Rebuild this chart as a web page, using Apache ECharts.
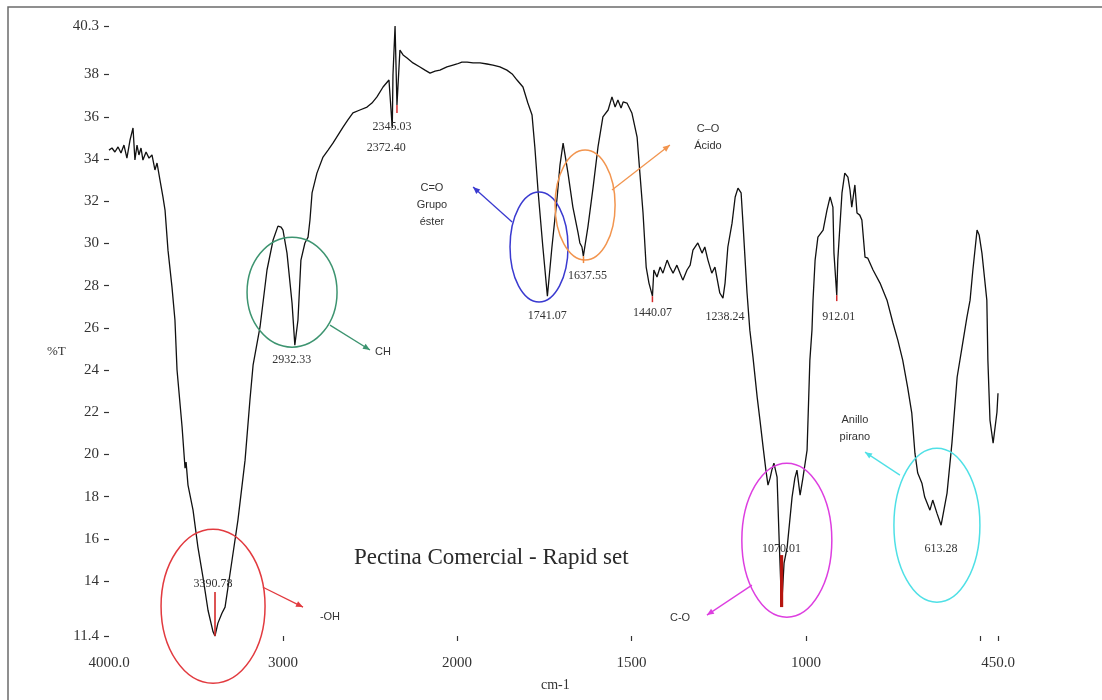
<!DOCTYPE html>
<html><head><meta charset="utf-8">
<script src="https://cdn.jsdelivr.net/npm/echarts@6/dist/echarts.min.js"></script>
<style>html,body{margin:0;padding:0;background:#fff}#c{width:1102px;height:700px}</style>
</head><body><div id="c"></div>
<script>
// ---- data ----
const wavenumber = [4000,3983,3966,3948,3931,3914,3897,3879,3862,3851,3839,3828,3816,3805,3787,3770,3753,3736,3724,3707,3690,3678,3661,3638,3621,3609,3580,3563,3557,3546,3517,3489,3460,3431,3402,3391,3374,3351,3333,3293,3259,3218,3190,3172,3132,3092,3057,3029,3011,3000,2977,2948,2932,2914,2897,2874,2856,2845,2833,2805,2770,2741,2713,2684,2655,2627,2598,2558,2517,2489,2460,2425,2391,2372,2368,2356,2345,2328,2310,2287,2253,2213,2184,2155,2126,2098,2058,2023,2000,
1986,1971,1954,1934,1914,1897,1877,1857,1842,1828,1811,1797,1785,1777,1768,1754,1741,1728,1713,1705,1696,1688,1682,1668,1653,1648,1642,1638,1625,1610,1596,1582,1567,1556,1547,1539,1530,1524,1513,1499,1484,1476,1467,1458,1450,1440,1436,1427,1418,1410,1398,1390,1381,1370,1361,1353,1341,1332,1324,1310,1298,1290,1281,1270,1261,1247,1238,1232,1224,1212,1203,1195,1186,1180,1169,1161,1152,1140,1132,1123,1115,1109,1103,1098,1092,1083,1077,1070,1063,1054,1040,1032,1026,1017,1009,997,989,983,980,974,966,951,940,931,923,920,912,909,897,889,880,874,869,860,854,846,840,831,823,808,788,768,751,737,723,709,697,688,680,668,660,645,637,625,613,596,582,567,553,539,530,522,510,504,496,482,479,473,464,453,450];
const transmittance = [34.42,34.52,34.33,34.57,34.28,34.66,34.04,34.90,35.47,33.95,34.66,34.19,34.52,33.95,34.33,34.04,34.19,33.48,33.81,33.00,32.20,31.58,29.68,27.93,26.37,24.00,21.30,19.35,19.64,18.55,17.36,15.61,14.19,12.62,11.60,11.40,12.01,12.48,12.77,14.99,16.89,19.73,22.58,24.23,26.04,28.74,30.16,30.82,30.77,30.63,29.54,27.17,25.18,26.37,29.21,30.02,30.30,31.11,32.39,33.33,34.09,34.42,34.75,35.13,35.51,35.85,36.18,36.32,36.46,36.65,36.94,37.41,37.74,35.47,37.98,40.30,36.56,39.16,38.93,38.78,38.55,38.36,38.21,38.07,38.16,38.21,38.36,38.45,38.50,
38.59,38.59,38.55,38.55,38.50,38.45,38.36,38.21,38.03,37.74,37.41,36.65,36.08,34.57,32.53,29.83,27.50,29.83,32.20,33.71,34.75,33.95,33.33,31.72,30.49,30.02,29.83,29.40,30.77,32.67,34.57,35.99,36.32,36.94,36.46,36.79,36.41,36.70,36.65,36.18,35.04,33.33,31.44,28.88,28.12,27.50,28.74,28.41,28.88,28.59,29.21,28.88,28.59,28.97,28.59,28.26,28.74,28.97,29.68,30.02,29.54,29.83,29.21,28.59,28.88,27.65,27.41,28.12,29.83,30.96,32.20,32.62,32.39,30.77,27.65,25.89,24.61,22.72,21.63,20.35,19.26,18.55,18.88,19.26,19.59,18.93,15.94,12.77,14.85,15.61,17.98,18.88,19.26,18.07,18.88,20.21,24.47,25.89,27.31,29.21,30.30,30.63,31.58,32.20,31.72,29.54,27.55,29.21,32.39,33.33,33.14,32.53,31.72,32.77,31.44,31.34,31.11,29.35,29.30,28.74,28.12,27.31,26.23,25.42,24.47,23.19,21.96,20.06,19.12,18.64,17.98,17.36,17.84,17.22,16.65,18.17,20.54,23.67,25.09,26.51,27.31,28.74,30.63,30.40,29.54,27.31,24.47,21.63,20.54,22.00,22.90];

const xBreak = 2000;
const xTicksHigh = [3000];
const xLabelsHigh = [4000, 3000];
const xTicksLow = [2000, 1500, 1000, 500, 450];
const xLabelsLow = [2000, 1500, 1000, 450];
const yLabels = [11.4, 14, 16, 18, 20, 22, 24, 26, 28, 30, 32, 34, 36, 38, 40.3];

const peakWn = [3390.78, 2932.33, 2372.40, 2345.03, 1741.07, 1637.55, 1440.07, 1238.24, 1070.01, 912.01, 613.28];
const peakT  = [11.4, 25.18, 35.47, 36.56, 27.50, 29.40, 27.50, 27.41, 12.77, 27.55, 16.65];
const peakText = ['3390.78','2932.33','2372.40','2345.03','1741.07','1637.55','1440.07','1238.24','1070.01','912.01','613.28'];

const groupText = ['-OH', 'CH', 'C=O\nGrupo\néster', 'C–O\nÁcido', 'C-O', 'Anillo\npirano'];
const groupCircleWn = [3402, 2948, 1765, 1633, 1055, 625];
const groupCircleT  = [12.81, 27.69, 29.83, 31.82, 15.94, 16.65];
const groupArrowFromWn = [3115, 2730, 1842, 1556, 1155, 731];
const groupArrowFromT  = [13.71, 26.13, 31.01, 32.53, 13.81, 19.02];
const groupArrowToWn = [2885, 2500, 1954, 1390, 1284, 831];
const groupArrowToT  = [12.77, 24.95, 32.67, 34.66, 12.39, 20.11];
const groupTextWn = [2730, 2425, 2144, 1281, 1361, 860];
const groupTextT  = [12.29, 24.85, 31.82, 35.04, 12.24, 21.25];

// ---- styles ----
const groupColors = ['#e23a3f', '#3d9470', '#3a3ad0', '#f2954f', '#dd3ee0', '#4fe0e6'];
const groupRadii = [[52,77],[45,55],[29,55],[30,55],[45,77],[43,77]];
const peakOffsets = [[-2,-52],[-3,15],[-6,20],[-5,22],[0,20],[4,20],[0,17],[2,19],[0,-58],[2,22],[0,24]];
const serif = '"Liberation Serif", "DejaVu Serif", serif';
const sans = '"Liberation Sans", Arial, sans-serif';

const hi = [], lo = [];
for (let i = 0; i < wavenumber.length; i++) {
  const p = [wavenumber[i], transmittance[i]];
  if (wavenumber[i] >= xBreak) hi.push(p);
  if (wavenumber[i] <= xBreak) lo.push(p);
}

const fmtX = v => (v === 4000 || v === 450) ? v.toFixed(1) : String(v);
const fmtY = v => String(v);

const gridTop = 26, gridH = 610;
const axisCommon = {
  type: 'value', inverse: true,
  axisLine: { show: false },
  splitLine: { show: false },
  axisTick: { show: true, length: 5, lineStyle: { color: '#333', width: 1.2 } },
  axisLabel: { color: '#333', fontFamily: serif, fontSize: 15, margin: 20, formatter: fmtX }
};

const option = {
  animation: false,
  backgroundColor: '#fff',
  title: [
    { text: 'Pectina Comercial - Rapid set', left: 349, top: 541,
      textStyle: { fontFamily: serif, fontSize: 23, fontWeight: 'normal', color: '#2a2a2a' } },
    { text: 'cm-1', left: 536, top: 673,
      textStyle: { fontFamily: serif, fontSize: 14, fontWeight: 'normal', color: '#333' } },
    { text: '%T', left: 42, top: 340,
      textStyle: { fontFamily: serif, fontSize: 13, fontWeight: 'normal', color: '#333' } }
  ],
  grid: [
    { left: 109, width: 348, top: gridTop, height: gridH },
    { left: 457, width: 541, top: gridTop, height: gridH }
  ],
  xAxis: [
    Object.assign({}, axisCommon, { gridIndex: 0, min: 2000, max: 4000,
      axisTick: Object.assign({}, axisCommon.axisTick, { customValues: xTicksHigh }),
      axisLabel: Object.assign({}, axisCommon.axisLabel, { customValues: xLabelsHigh }) }),
    Object.assign({}, axisCommon, { gridIndex: 1, min: 450, max: 2000,
      axisTick: Object.assign({}, axisCommon.axisTick, { customValues: xTicksLow }),
      axisLabel: Object.assign({}, axisCommon.axisLabel, { customValues: xLabelsLow }) })
  ],
  yAxis: [
    { type: 'value', gridIndex: 0, min: 11.4, max: 40.3,
      axisLine: { show: false }, splitLine: { show: false },
      axisTick: { show: true, length: 5, customValues: yLabels, lineStyle: { color: '#333', width: 1.2 } },
      axisLabel: { customValues: yLabels, color: '#333', fontFamily: serif, fontSize: 15, margin: 10, formatter: fmtY } },
    { type: 'value', gridIndex: 1, min: 11.4, max: 40.3, show: false, splitLine: { show: false } }
  ],
  series: [
    { type: 'line', xAxisIndex: 0, yAxisIndex: 0, data: hi, showSymbol: false, symbol: 'none',
      lineStyle: { color: '#111', width: 1.3 }, clip: false },
    { type: 'line', xAxisIndex: 1, yAxisIndex: 1, data: lo, showSymbol: false, symbol: 'none',
      lineStyle: { color: '#111', width: 1.3 }, clip: false }
  ]
};

const chart = echarts.init(document.getElementById('c'), null, { renderer: 'canvas' });
chart.setOption(option);

function toPx(wn, t) {
  return chart.convertToPixel({ gridIndex: wn >= xBreak ? 0 : 1 }, [wn, t]);
}

const g = [];
// page border
g.push({ type: 'rect', shape: { x: 8, y: 7, width: 1120, height: 720 }, style: { fill: 'none', stroke: '#6b6b6b', lineWidth: 1.5 }, silent: true });

// peak markers
const markerIdx = { 0: ['#d42a2a', 44, 1.6], 3: ['#d42a2a', 8, 1.5], 5: ['#f08a40', 7, 1.5], 6: ['#d42a2a', 6, 1.5], 8: ['#b5150f', 52, 3.2], 9: ['#d42a2a', 6, 1.5] };
Object.keys(markerIdx).forEach(k => {
  const i = +k; const [col, len, w] = markerIdx[k];
  const p = toPx(peakWn[i], peakT[i]);
  const up = peakOffsets[i][1] < 0;
  g.push({ type: 'line', shape: { x1: p[0], y1: p[1], x2: p[0], y2: up ? p[1] - len : p[1] + len },
    style: { stroke: col, lineWidth: w }, silent: true, z: 5 });
});

// peak labels
for (let i = 0; i < peakWn.length; i++) {
  const p = toPx(peakWn[i], peakT[i]);
  g.push({ type: 'text', x: p[0] + peakOffsets[i][0], y: p[1] + peakOffsets[i][1],
    style: { text: peakText[i], align: 'center', verticalAlign: 'middle', font: '12px ' + serif, fill: '#333' }, z: 6 });
}

// group annotations: ellipses, arrows, texts
for (let i = 0; i < groupText.length; i++) {
  const c = toPx(groupCircleWn[i], groupCircleT[i]);
  g.push({ type: 'ellipse', shape: { cx: c[0], cy: c[1], rx: groupRadii[i][0], ry: groupRadii[i][1] },
    style: { fill: 'none', stroke: groupColors[i], lineWidth: 1.5 }, z: 4 });
  const a = toPx(groupArrowFromWn[i], groupArrowFromT[i]);
  const b = toPx(groupArrowToWn[i], groupArrowToT[i]);
  g.push({ type: 'line', shape: { x1: a[0], y1: a[1], x2: b[0], y2: b[1] },
    style: { stroke: groupColors[i], lineWidth: 1.3 }, z: 4 });
  const dx = b[0] - a[0], dy = b[1] - a[1], L = Math.hypot(dx, dy) || 1;
  const ux = dx / L, uy = dy / L, nx = -uy, ny = ux;
  g.push({ type: 'polygon', shape: { points: [[b[0], b[1]], [b[0] - 7 * ux + 3 * nx, b[1] - 7 * uy + 3 * ny], [b[0] - 7 * ux - 3 * nx, b[1] - 7 * uy - 3 * ny]] },
    style: { fill: groupColors[i] }, z: 4 });
  const t = toPx(groupTextWn[i], groupTextT[i]);
  g.push({ type: 'text', x: t[0], y: t[1],
    style: { text: groupText[i], align: 'center', verticalAlign: 'middle', font: '11px ' + sans, fill: '#333', lineHeight: 17 }, z: 6 });
}

chart.setOption({ graphic: g });
</script>
</body></html>
